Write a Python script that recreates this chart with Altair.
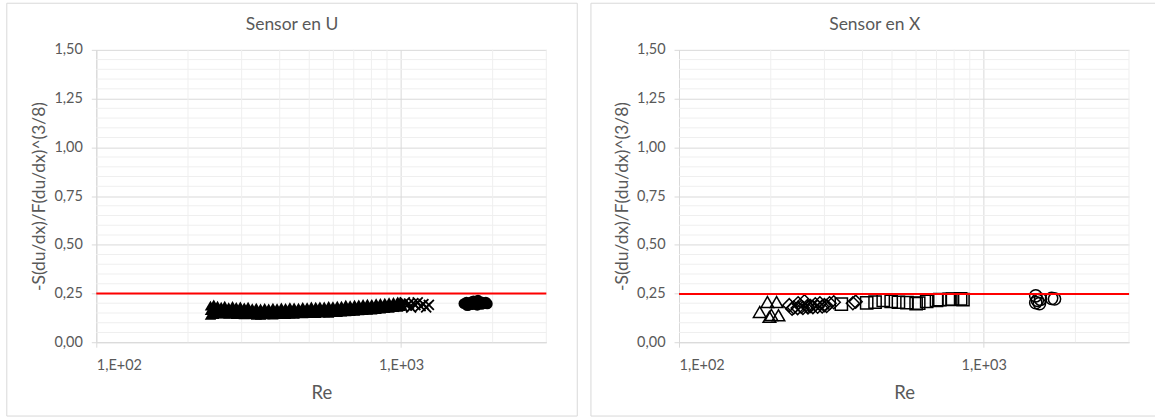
import altair as alt
import pandas as pd

FONT = "Lato"
TEXT = "#595959"
GRID_MAJOR = "#d9d9d9"
GRID_MINOR = "#efefef"

# ---- Sensor en U -------------------------------------------------------
# filled triangles: Re columns with low / mid / high values of the band
u_tri_re = [237, 243, 250, 257, 264, 272, 280, 288, 297, 306, 315, 325, 335, 346,
            357, 368, 380, 392, 405, 418, 432, 446, 461, 476, 492, 508, 525, 542,
            560, 579, 598, 618, 638, 659, 681, 704, 727, 751, 776, 802, 829, 856,
            885, 914, 945, 976, 995]
u_tri_lo = [0.140, 0.145, 0.148, 0.150, 0.147, 0.146, 0.149, 0.145, 0.147, 0.143,
            0.146, 0.144, 0.141, 0.140, 0.143, 0.144, 0.142, 0.145, 0.146, 0.144,
            0.147, 0.146, 0.149, 0.148, 0.150, 0.151, 0.149, 0.152, 0.153, 0.151,
            0.155, 0.154, 0.157, 0.158, 0.160, 0.161, 0.163, 0.165, 0.166, 0.168,
            0.170, 0.172, 0.175, 0.177, 0.180, 0.182, 0.185]
u_tri_mid = [0.165, 0.170, 0.168, 0.166, 0.170, 0.163, 0.168, 0.165, 0.162, 0.160,
             0.164, 0.159, 0.158, 0.157, 0.160, 0.158, 0.161, 0.159, 0.162, 0.160,
             0.163, 0.164, 0.162, 0.165, 0.166, 0.167, 0.168, 0.166, 0.170, 0.169,
             0.171, 0.172, 0.173, 0.175, 0.176, 0.178, 0.179, 0.180, 0.182, 0.184,
             0.185, 0.187, 0.189, 0.191, 0.193, 0.195, 0.197]
u_tri_hi = [0.188, 0.194, 0.188, 0.182, 0.187, 0.180, 0.186, 0.181, 0.183, 0.179,
            0.182, 0.175, 0.177, 0.173, 0.176, 0.173, 0.177, 0.175, 0.178, 0.176,
            0.180, 0.178, 0.177, 0.181, 0.180, 0.183, 0.182, 0.184, 0.183, 0.186,
            0.185, 0.188, 0.187, 0.192, 0.190, 0.193, 0.194, 0.196, 0.198, 0.197,
            0.200, 0.201, 0.203, 0.205, 0.207, 0.209, 0.208]

u_x_re = [1002, 1015, 1030, 1045, 1062, 1080, 1098, 1115, 1135, 1160, 1185, 1210, 1235]
u_x_s = [0.195, 0.182, 0.205, 0.188, 0.198, 0.178, 0.200, 0.190, 0.204, 0.185,
         0.196, 0.179, 0.192]

u_circ_re = [1610, 1640, 1670, 1700, 1730, 1760, 1790, 1820, 1850, 1880, 1920,
             1650, 1720, 1780, 1840, 1900]
u_circ_s = [0.198, 0.205, 0.190, 0.207, 0.212, 0.200, 0.215, 0.198, 0.205, 0.200,
            0.197, 0.188, 0.193, 0.190, 0.194, 0.205]

u_ref = 0.25

# ---- Sensor en X -------------------------------------------------------
x_tri_re = [184, 195, 198, 201, 209, 212]
x_tri_s = [0.155, 0.206, 0.130, 0.140, 0.206, 0.138]

x_dia_re = [230, 238, 246, 252, 258, 264, 270, 280, 290, 300, 312, 322, 372, 380,
            235, 245, 255, 265, 275, 285, 295, 305]
x_dia_s = [0.190, 0.178, 0.200, 0.182, 0.210, 0.185, 0.186, 0.195, 0.200, 0.190,
           0.200, 0.205, 0.200, 0.208,
           0.172, 0.175, 0.176, 0.178, 0.180, 0.182, 0.183, 0.186]

x_sq_re = [341, 413, 440, 468, 497, 525, 560, 600, 612, 650, 700, 718, 770, 790, 840, 855]
x_sq_s = [0.195, 0.202, 0.206, 0.215, 0.210, 0.205, 0.203, 0.198, 0.200, 0.210,
          0.215, 0.218, 0.220, 0.221, 0.222, 0.218]

x_circ_re = [1482, 1482, 1536, 1524, 1671, 1708, 1500]
x_circ_s = [0.238, 0.203, 0.220, 0.198, 0.225, 0.222, 0.215]

x_ref = 0.247

# ---- axes ---------------------------------------------------------------
x_major = [100, 1000]
x_minor = [200, 300, 400, 500, 600, 700, 800, 900, 2000, 3000]
y_major = [0, 0.25, 0.5, 0.75, 1.0, 1.25, 1.5]
y_minor = [0.05, 0.10, 0.15, 0.20, 0.30, 0.35, 0.40, 0.45, 0.55, 0.60, 0.65, 0.70,
           0.80, 0.85, 0.90, 0.95, 1.05, 1.10, 1.15, 1.20, 1.30, 1.35, 1.40, 1.45]

W, H = 451, 293

xs = alt.Scale(type="log", domain=[100, 3000], nice=False)
ys = alt.Scale(domain=[0, 1.5], nice=False)

x_axis = alt.Axis(
    values=x_major,
    labelExpr="'1,E+0' + round(log(datum.value) / LN10)",
    grid=True, gridColor=GRID_MAJOR, domainColor=GRID_MAJOR,
    tickColor=GRID_MAJOR, tickSize=5, labelPadding=11,
    labelFont=FONT, labelFontSize=14.5, labelColor=TEXT,
    title="Re", titleFont=FONT, titleFontSize=18.5, titleFontWeight="normal",
    titleColor=TEXT, titleX=W / 2, titleY=50.7, titleBaseline="middle",
    titleAlign="center",
)
y_axis = alt.Axis(
    values=y_major,
    labelExpr="replace(format(datum.value, '.2f'), '.', ',')",
    grid=True, gridColor=GRID_MAJOR, domainColor=GRID_MAJOR,
    tickColor=GRID_MAJOR, tickSize=5, labelPadding=9,
    labelFont=FONT, labelFontSize=14.5, labelColor=TEXT,
    title="-S(du/dx)/F(du/dx)^(3/8)", titleFont=FONT, titleFontSize=17.5,
    titleFontWeight="normal", titleColor=TEXT, titleX=-57, titleY=H / 2,
    titleBaseline="middle", titleAlign="center",
)


def X():
    return alt.X("Re:Q", scale=xs, axis=x_axis)


def Y():
    return alt.Y("S:Q", scale=ys, axis=y_axis)


def points(re, s, **mark):
    df = pd.DataFrame({"Re": re, "S": s})
    return alt.Chart(df).mark_point(opacity=1, **mark).encode(x=X(), y=Y())


def panel(title, series, ref, frame):
    vgrid = alt.Chart(pd.DataFrame({"Re": x_minor})).mark_rule(
        color=GRID_MINOR, strokeWidth=1).encode(x=X())
    hgrid = alt.Chart(pd.DataFrame({"S": y_minor})).mark_rule(
        color=GRID_MINOR, strokeWidth=1).encode(y=Y())
    ref_line = alt.Chart(pd.DataFrame({"S": [ref]})).mark_rule(
        color="#ff0000", strokeWidth=2).encode(y=Y())
    head = alt.Chart(pd.DataFrame({"t": [title]})).mark_text(
        font=FONT, fontSize=17.5, color=TEXT, align="center", baseline="alphabetic"
    ).encode(x=alt.value(196.15), y=alt.value(-19.7), text="t:N")
    return alt.layer(*frame, vgrid, hgrid, *series, ref_line, head).properties(
        width=W, height=H)


one = pd.DataFrame({"k": [0]})

frame_u = [
    alt.Chart(one).mark_rect(fill="transparent", stroke=GRID_MAJOR, strokeWidth=1)
    .encode(x=alt.value(-89.7), x2=alt.value(482), y=alt.value(-46.7), y2=alt.value(367))
]
frame_x = [
    alt.Chart(one).mark_rule(color=GRID_MAJOR, strokeWidth=1)
    .encode(x=alt.value(-88.3), x2=alt.value(477), y=alt.value(-46.7)),
    alt.Chart(one).mark_rule(color=GRID_MAJOR, strokeWidth=1)
    .encode(x=alt.value(-88.3), y=alt.value(-46.7), y2=alt.value(367)),
    alt.Chart(one).mark_rule(color=GRID_MAJOR, strokeWidth=1)
    .encode(x=alt.value(-88.3), x2=alt.value(477), y=alt.value(367)),
]

tri_re = u_tri_re * 3
tri_s = u_tri_lo + u_tri_mid + u_tri_hi

series_u = [
    points(tri_re, tri_s, shape="triangle-up", filled=True, color="black", size=130),
    points(u_x_re, u_x_s, shape="M-1,-1L1,1M1,-1L-1,1", filled=False,
           color="black", strokeWidth=1.8, size=100),
    points(u_circ_re, u_circ_s, shape="circle", filled=True, color="black", size=120),
]

hollow = dict(filled=False, color="black", strokeWidth=1.5)
series_x = [
    points(x_tri_re, x_tri_s, shape="triangle-up", size=160, **hollow),
    points(x_dia_re, x_dia_s, shape="diamond", size=170, **hollow),
    points(x_sq_re, x_sq_s, shape="square", size=150, **hollow),
    points(x_circ_re, x_circ_s, shape="circle", size=150, **hollow),
]

chart = alt.hconcat(
    panel("Sensor en U", series_u, u_ref, frame_u),
    panel("Sensor en X", series_x, x_ref, frame_x),
    spacing=12,
).properties(
    padding={"left": 5.5, "top": 1.5, "right": 0, "bottom": 0},
    background="white",
).configure_view(strokeWidth=0)

chart.save("out.html", embed_options={"renderer": "svg", "actions": False})
